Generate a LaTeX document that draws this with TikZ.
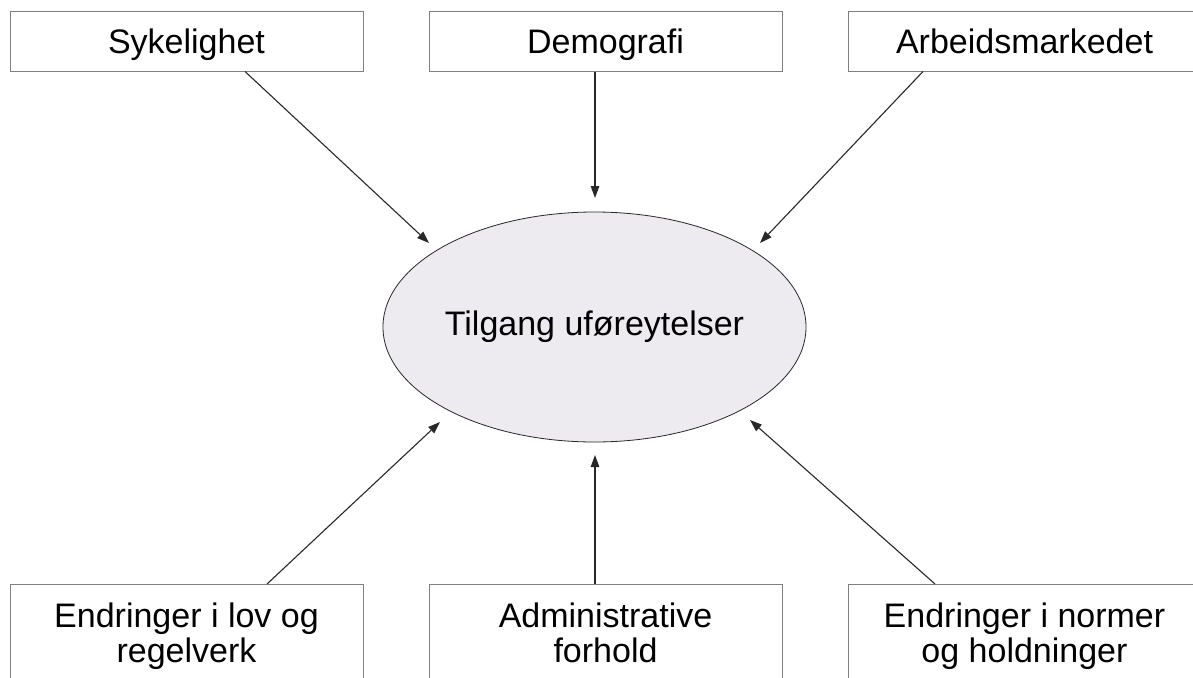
\documentclass[tikz,border=0pt]{standalone}
\usepackage{fontspec}
\setmainfont{Liberation Sans}
\usetikzlibrary{shapes.geometric,arrows.meta}
\definecolor{ellfill}{RGB}{237,234,240}
\definecolor{boxline}{RGB}{128,128,128}
\definecolor{arrline}{RGB}{40,40,40}
\begin{document}
\begin{tikzpicture}[x=1pt,y=-1pt,
  every node/.style={font=\fontsize{34}{35}\selectfont},
  topbox/.style={draw=boxline,line width=1pt,minimum width=353pt,minimum height=59pt,
    inner sep=0pt,text height=24pt,text depth=0pt},
  botbox/.style={draw=boxline,line width=1pt,minimum width=353pt,inner xsep=0pt,
    inner ysep=18pt,align=center,anchor=north},
  centre/.style={ellipse,draw=arrline,line width=0.8pt,fill=ellfill,
    minimum width=375pt,minimum height=230pt,inner sep=0pt},
  feeds/.style={draw=arrline,line width=1.1pt,-{Triangle[length=12pt,width=8.5pt]}}]
\clip (0,0) rectangle (1193,677);
\fill[white] (0,0) rectangle (1193,677);

% factor boxes along the top
\node[topbox] (syk)  at (186.5,41.5) {Sykelighet};
\node[topbox] (demo) at (605.5,41.5) {Demografi};
\node[topbox] (arb)  at (1024.5,41.5) {Arbeidsmarkedet};

% factor boxes along the bottom (run off the lower edge)
\node[botbox] (lov)  at (186.5,584) {Endringer i lov og\\regelverk};
\node[botbox] (adm)  at (605.5,584) {Administrative\\forhold};
\node[botbox] (norm) at (1024.5,584) {Endringer i normer\\og holdninger};

% central outcome
\node[centre] (ufor) at (594.5,327) {Tilgang uføreytelser};

% arrow tips, stopping short of the ellipse
\coordinate (t1) at (429,243);
\coordinate (t2) at (595,198);
\coordinate (t3) at (760,243);
\coordinate (t4) at (440,422);
\coordinate (t5) at (595,455);
\coordinate (t6) at (750,420);

\draw[feeds] ([xshift=58.5pt]syk.south) -- (t1);
\draw[feeds] ([xshift=-10.5pt]demo.south) -- (t2);
\draw[feeds] ([xshift=-101.5pt]arb.south) -- (t3);
\draw[feeds] ([xshift=80.5pt]lov.north) -- (t4);
\draw[feeds] ([xshift=-10.5pt]adm.north) -- (t5);
\draw[feeds] ([xshift=-89.5pt]norm.north) -- (t6);
\end{tikzpicture}
\end{document}
